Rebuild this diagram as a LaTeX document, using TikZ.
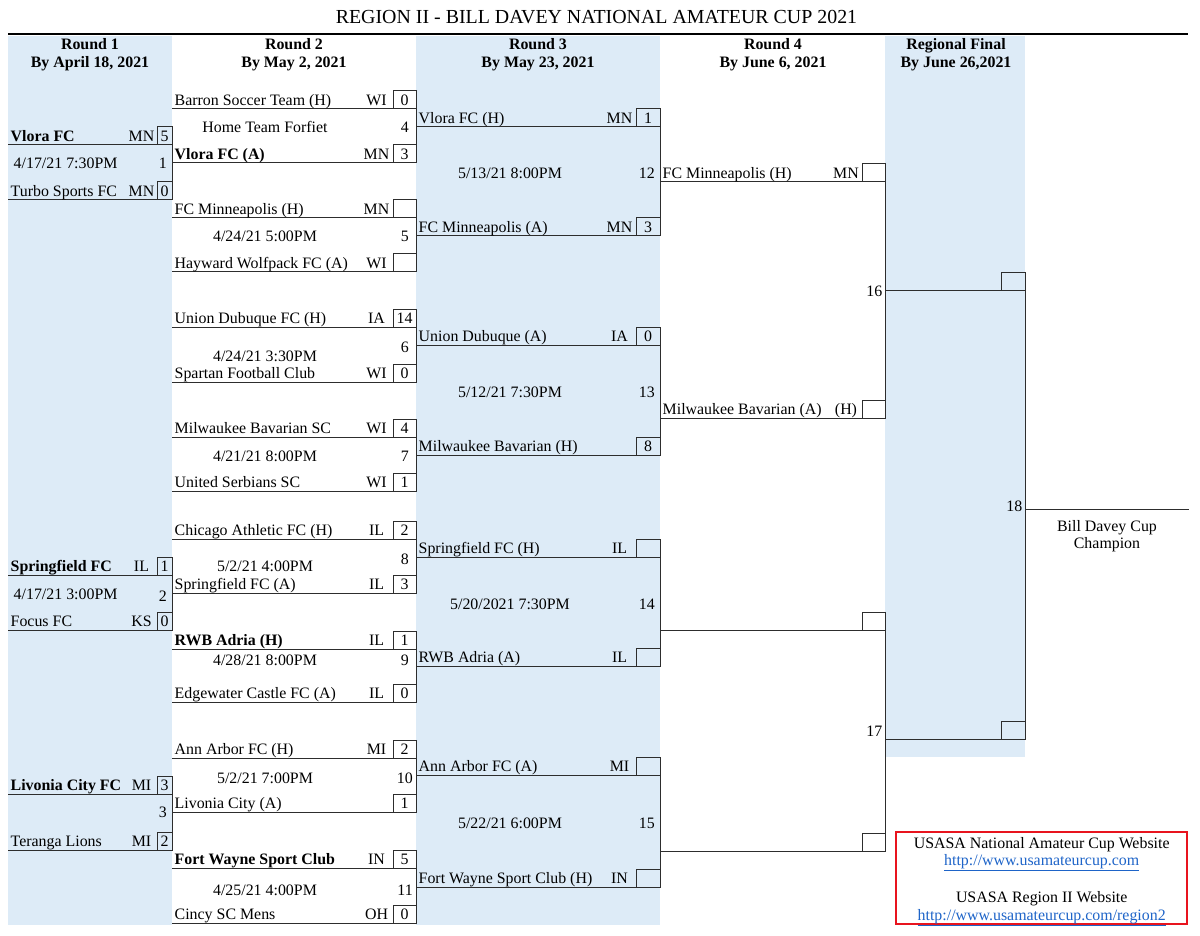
\documentclass[tikz,border=0pt]{standalone}
\usepackage{fontspec}
\setmainfont{Liberation Serif}
\definecolor{colblue}{RGB}{221,235,247}
\definecolor{lncol}{RGB}{45,45,45}
\definecolor{linkblue}{RGB}{30,100,200}
\definecolor{boxred}{RGB}{232,20,30}
\tikzset{
  rule/.style={draw=lncol, line width=1pt, line cap=rect},
  scorebox/.style={draw=lncol, line width=1pt},
  txt/.style={inner sep=0pt, font=\fontsize{15.9}{18}\selectfont},
  hdr/.style={inner sep=0pt, font=\fontsize{15.9}{18}\selectfont\bfseries},
  ttl/.style={inner sep=0pt, font=\fontsize{19.9}{22}\selectfont},
  lnk/.style={inner sep=0pt, text=linkblue, font=\fontsize{15.9}{18}\selectfont},
}
% \bteam{id}{xl}{xr}{boxw}{statecenter}{y}{text}{state}{score}
\newcommand\bteam[9]{%
  \coordinate (#1l) at (#2,#6);
  \coordinate (#1r) at (#3,#6);
  \draw[rule] (#1l) -- (#1r);
  \draw[scorebox] (#3-#4,#6-18) rectangle (#1r);
  \node[txt, anchor=base west] (#1t) at (#2+2.5,#6-3.5) {#7};
  \node[txt, anchor=base] (#1s) at (#5,#6-3.5) {#8};
  \node[txt, anchor=base] (#1n) at (#3-#4/2,#6-3.5) {#9};
}
\begin{document}
\begin{tikzpicture}[x=1pt, y=-1pt]
\useasboundingbox (0,0) rectangle (1200,936);
% column backgrounds
\fill[colblue] (8,36) rectangle (172,925);
\fill[colblue] (416,36) rectangle (660,925);
\fill[colblue] (885,36) rectangle (1025,757);
% title and top rule
\node[ttl, anchor=base] (title) at (596.5,24) {REGION II - BILL DAVEY NATIONAL AMATEUR CUP 2021};
\coordinate (rulel) at (8,34.5);
\coordinate (ruler) at (1188,34.5);
\draw[line width=2pt, black] (rulel) -- (ruler);
% headers
\node[hdr, anchor=base] (h1a) at (90,50) {Round 1};
\node[hdr, anchor=base] (h1b) at (90,68) {By April 18, 2021};
\node[hdr, anchor=base] (h2a) at (294,50) {Round 2};
\node[hdr, anchor=base] (h2b) at (294,68) {By May 2, 2021};
\node[hdr, anchor=base] (h3a) at (538,50) {Round 3};
\node[hdr, anchor=base] (h3b) at (538,68) {By May 23, 2021};
\node[hdr, anchor=base] (h4a) at (773,50) {Round 4};
\node[hdr, anchor=base] (h4b) at (773,68) {By June 6, 2021};
\node[hdr, anchor=base] (h5a) at (956,50) {Regional Final};
\node[hdr, anchor=base] (h5b) at (956,68) {By June 26,2021};
% Round 1
\bteam{a1}{8}{172}{15}{141.5}{145}{\bfseries Vlora FC}{MN}{5}
\bteam{a2}{8}{172}{15}{141.5}{200}{Turbo Sports FC}{MN}{0}
\bteam{a3}{8}{172}{15}{141.5}{575}{\bfseries Springfield FC}{IL}{1}
\bteam{a4}{8}{172}{15}{141.5}{630}{Focus FC}{KS}{0}
\bteam{a5}{8}{172}{15}{141.5}{794}{\bfseries Livonia City FC}{MI}{3}
\bteam{a6}{8}{172}{15}{141.5}{850}{Teranga Lions}{MI}{2}
% Round 2
\bteam{b1}{172}{416}{23}{376.5}{109}{Barron Soccer Team (H)}{WI}{0}
\bteam{b2}{172}{416}{23}{376.5}{163}{\bfseries Vlora FC (A)}{MN}{3}
\bteam{b3}{172}{416}{23}{376.5}{218}{FC Minneapolis (H)}{MN}{}
\bteam{b4}{172}{416}{23}{376.5}{272}{Hayward Wolfpack FC (A)}{WI}{}
\bteam{b5}{172}{416}{23}{376.5}{327}{Union Dubuque FC (H)}{IA}{14}
\bteam{b6}{172}{416}{23}{376.5}{382}{Spartan Football Club}{WI}{0}
\bteam{b7}{172}{416}{23}{376.5}{437}{Milwaukee Bavarian SC}{WI}{4}
\bteam{b8}{172}{416}{23}{376.5}{491}{United Serbians SC}{WI}{1}
\bteam{b9}{172}{416}{23}{376.5}{539}{Chicago Athletic FC (H)}{IL}{2}
\bteam{b10}{172}{416}{23}{376.5}{593}{Springfield FC (A)}{IL}{3}
\bteam{b11}{172}{416}{23}{376.5}{649}{\bfseries RWB Adria (H)}{IL}{1}
\bteam{b12}{172}{416}{23}{376.5}{702}{Edgewater Castle FC (A)}{IL}{0}
\bteam{b13}{172}{416}{23}{376.5}{758}{Ann Arbor FC (H)}{MI}{2}
\bteam{b14}{172}{416}{23}{376.5}{812}{Livonia City (A)}{}{1}
\bteam{b15}{172}{416}{23}{376.5}{868}{\bfseries Fort Wayne Sport Club}{IN}{5}
\bteam{b16}{172}{416}{23}{376.5}{923}{Cincy SC Mens}{OH}{0}
% Round 3
\bteam{c1}{416}{660}{24}{619.5}{127}{Vlora FC (H)}{MN}{1}
\bteam{c2}{416}{660}{24}{619.5}{236}{FC Minneapolis (A)}{MN}{3}
\bteam{c3}{416}{660}{24}{619.5}{345}{Union Dubuque (A)}{IA}{0}
\bteam{c4}{416}{660}{24}{619.5}{455}{Milwaukee Bavarian (H)}{}{8}
\bteam{c5}{416}{660}{24}{619.5}{557}{Springfield FC (H)}{IL}{}
\bteam{c6}{416}{660}{24}{619.5}{666}{RWB Adria (A)}{IL}{}
\bteam{c7}{416}{660}{24}{619.5}{775}{Ann Arbor FC (A)}{MI}{}
\bteam{c8}{416}{660}{24}{619.5}{887}{Fort Wayne Sport Club (H)}{IN}{}
% Round 4
\bteam{d1}{660}{885}{23}{846}{182}{FC Minneapolis (H)}{MN}{}
\bteam{d2}{660}{885}{23}{846}{418}{Milwaukee Bavarian (A)}{(H)}{}
\bteam{d3}{660}{885}{23}{846}{630}{}{}{}
\bteam{d4}{660}{885}{23}{846}{851}{}{}{}
% Regional final
\bteam{e1}{885}{1025}{24}{960}{291}{}{}{}
\bteam{e2}{885}{1025}{24}{960}{739}{}{}{}
\coordinate (chl) at (1025,509);
\coordinate (chr) at (1188,509);
\draw[rule] (chl) -- (chr);
% bracket verticals
\draw[rule] (a1r) -- (a2r);
\draw[rule] (a3r) -- (a4r);
\draw[rule] (a5r) -- (a6r);
\draw[rule] (b1r) -- (b2r);
\draw[rule] (b3r) -- (b4r);
\draw[rule] (b5r) -- (b6r);
\draw[rule] (b7r) -- (b8r);
\draw[rule] (b9r) -- (b10r);
\draw[rule] (b11r) -- (b12r);
\draw[rule] (b13r) -- (b14r);
\draw[rule] (b15r) -- (b16r);
\draw[rule] (c1r) -- (c2r);
\draw[rule] (c3r) -- (c4r);
\draw[rule] (c5r) -- (c6r);
\draw[rule] (c7r) -- (c8r);
\draw[rule] (d1r) -- (d2r);
\draw[rule] (d3r) -- (d4r);
\draw[rule] (e1r) -- (e2r);
% Round 1 match info
\node[txt, anchor=base west] (dt1) at (13.5,168.5) {4/17/21 7:30PM};
\node[txt, anchor=base east] (mn1) at (167,168.5) {1};
\node[txt, anchor=base west] (dt2) at (13.5,599.5) {4/17/21 3:00PM};
\node[txt, anchor=base east] (mn2) at (167,601.5) {2};
\node[txt, anchor=base east] (mn3) at (167,817) {3};
% Round 2 match info
\node[txt, anchor=base] (dt4) at (265,132.5) {Home Team Forfiet};
\node[txt, anchor=base east] (mn4) at (409,133) {4};
\node[txt, anchor=base] (dt5) at (265,242) {4/24/21 5:00PM};
\node[txt, anchor=base east] (mn5) at (409,242) {5};
\node[txt, anchor=base] (dt6) at (265,361.5) {4/24/21 3:30PM};
\node[txt, anchor=base east] (mn6) at (409,352) {6};
\node[txt, anchor=base] (dt7) at (265,461.5) {4/21/21 8:00PM};
\node[txt, anchor=base east] (mn7) at (409,461.5) {7};
\node[txt, anchor=base] (dt8) at (265,571.5) {5/2/21 4:00PM};
\node[txt, anchor=base east] (mn8) at (409,564) {8};
\node[txt, anchor=base] (dt9) at (265,665) {4/28/21 8:00PM};
\node[txt, anchor=base east] (mn9) at (409,665) {9};
\node[txt, anchor=base] (dt10) at (265,783) {5/2/21 7:00PM};
\node[txt, anchor=base east] (mn10) at (413,783) {10};
\node[txt, anchor=base] (dt11) at (265,895) {4/25/21 4:00PM};
\node[txt, anchor=base east] (mn11) at (413,895) {11};
% Round 3 match info
\node[txt, anchor=base] (dt12) at (510,179) {5/13/21 8:00PM};
\node[txt, anchor=base east] (mn12) at (655,179) {12};
\node[txt, anchor=base] (dt13) at (510,397.5) {5/12/21 7:30PM};
\node[txt, anchor=base east] (mn13) at (655,397.5) {13};
\node[txt, anchor=base] (dt14) at (510,609) {5/20/2021 7:30PM};
\node[txt, anchor=base east] (mn14) at (655,609) {14};
\node[txt, anchor=base] (dt15) at (510,828) {5/22/21 6:00PM};
\node[txt, anchor=base east] (mn15) at (655,828) {15};
% Round 4 / final numbers
\node[txt, anchor=base east] (mn16) at (882.5,296.5) {16};
\node[txt, anchor=base east] (mn17) at (882.5,736.5) {17};
\node[txt, anchor=base east] (mn18) at (1022.5,511.5) {18};
\node[txt, anchor=base] (champ1) at (1107,531) {Bill Davey Cup};
\node[txt, anchor=base] (champ2) at (1107,548.7) {Champion};
% links box
\draw[boxred, line width=2.5pt] (896,832) rectangle (1187,924);
\node[txt, anchor=base] (web1) at (1041.7,848) {USASA National Amateur Cup Website};
\node[lnk, anchor=base] (url1) at (1041.7,865) {\underline{http://www.usamateurcup.com}};
\node[txt, anchor=base] (web2) at (1041.7,902.5) {USASA Region II Website};
\node[lnk, anchor=base] (url2) at (1041.7,920) {\underline{http://www.usamateurcup.com/region2}};
\end{tikzpicture}
\end{document}
